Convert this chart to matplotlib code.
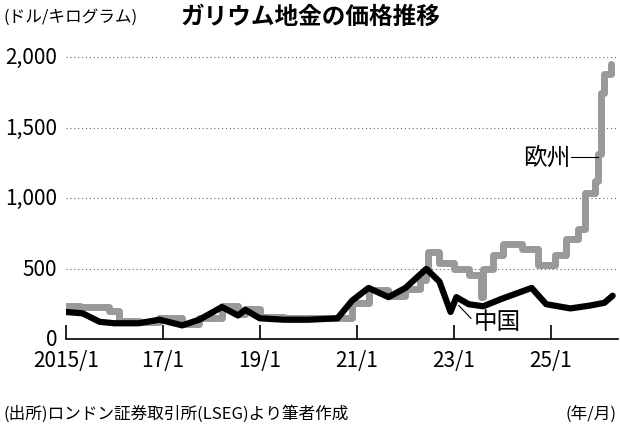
import matplotlib
matplotlib.use("Agg")
import matplotlib.pyplot as plt

plt.rcParams['font.family'] = ['Noto Sans CJK JP', 'DejaVu Sans']

china_t = [15.0, 15.35, 15.7, 16.0, 16.5, 16.93, 17.4, 17.75, 18.22, 18.55, 18.7, 19.0, 19.5, 20.0, 20.6,
           20.9, 21.24, 21.65, 22.0, 22.43, 22.7, 22.93, 23.05, 23.3, 23.6, 24.0, 24.6, 24.9, 25.4, 25.8, 26.1, 26.27]
china_v = [195, 185, 125, 115, 115, 140, 100, 140, 230, 170, 210, 150, 140, 140, 150,
           275, 365, 300, 365, 500, 410, 195, 300, 250, 235, 290, 365, 250, 220, 240, 260, 310]

eu_t = [15.0, 15.3, 15.9, 16.1, 16.5, 16.93, 17.4, 17.75, 18.22, 18.55, 18.7, 19.0, 19.5, 20.0, 20.6,
        20.9, 21.24, 21.65, 22.0, 22.3, 22.43, 22.47, 22.7, 23.0, 23.3, 23.56, 23.6, 23.8, 24.0, 24.4,
        24.73, 25.08, 25.3, 25.55, 25.7, 25.9, 25.97, 26.03, 26.1, 26.23]
eu_v = [240, 230, 205, 130, 125, 150, 110, 150, 240, 180, 215, 160, 150, 150, 150,
        260, 350, 310, 360, 420, 480, 620, 540, 500, 460, 300, 500, 600, 675, 640,
        530, 600, 710, 780, 1035, 1125, 1310, 1745, 1880, 1950]

xticks = [15, 17, 19, 21, 23, 25]
xlabels = ['2015/1', '17/1', '19/1', '21/1', '23/1', '25/1']
yticks = [0, 500, 1000, 1500, 2000]
ylabels = ['0', '500', '1,000', '1,500', '2,000']

fig = plt.figure(figsize=(6.2, 4.31), dpi=100)
ax = fig.add_axes([0.106, 0.21, 0.89, 0.675])
ax.step(eu_t, eu_v, where='post', color='#999999', lw=5, solid_capstyle='round', solid_joinstyle='round')
ax.plot(china_t, china_v, color='black', lw=4.5, solid_capstyle='round', solid_joinstyle='round')
ax.set_xlim(15.0, 26.37)
ax.set_ylim(0, 2060)
ax.set_xticks(xticks)
ax.set_xticklabels(xlabels, fontsize=15)
ax.set_yticks(yticks)
ax.set_yticklabels(ylabels, fontsize=15)
for lbl in ax.get_yticklabels():
    lbl.set_va('center')
for y in yticks[1:]:
    ax.axhline(y, color='#666666', lw=0.8, ls=(0, (1, 2.5)), zorder=0)
for s in ['top', 'right', 'left']:
    ax.spines[s].set_visible(False)
ax.spines['bottom'].set_linewidth(1.2)
ax.tick_params(axis='y', length=0, pad=6)
ax.tick_params(axis='x', length=10, width=1.2, direction='in', pad=7)

ax.text(25.4, 1290, '欧州', fontsize=17, ha='right', va='center')
ax.plot([25.42, 25.97], [1290, 1290], color='black', lw=0.8)
ax.text(23.4, 130, '中国', fontsize=17, ha='left', va='center')
ax.plot([23.1, 23.35], [240, 150], color='black', lw=0.8)

fig.text(0.005, 0.96, '(ドル/キログラム)', fontsize=12, va='center')
fig.text(0.5, 0.96, 'ガリウム地金の価格推移', fontsize=17, fontweight='bold', ha='center', va='center')
fig.text(0.005, 0.04, '(出所)ロンドン証券取引所(LSEG)より筆者作成', fontsize=12, va='center')
fig.text(0.995, 0.04, '(年/月)', fontsize=12, va='center', ha='right')

fig.savefig('out.png', dpi=100)
